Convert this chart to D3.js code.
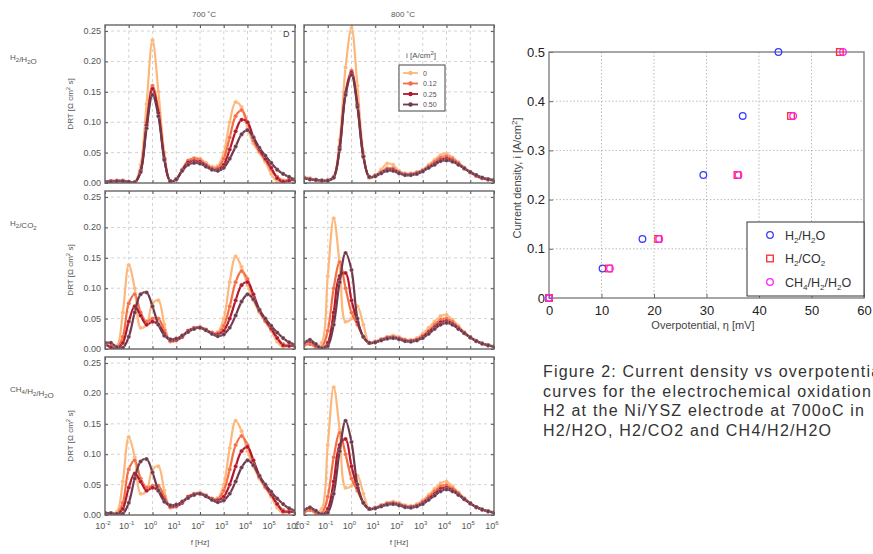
<!DOCTYPE html>
<html>
<head>
<meta charset="utf-8">
<script src="https://cdn.jsdelivr.net/npm/d3@7"></script>
<style>
  body { margin: 0; background: #fff; }
  text { font-family: "Liberation Sans", Arial, sans-serif; }
</style>
</head>
<body>
<div id="vis"></div>
<script>
const FRAME_WIDTH = 873;
const FRAME_HEIGHT = 554;

// frequency grid, log10(f / Hz)
const LOG_F = [-2, -1.75, -1.5, -1.25, -1, -0.75, -0.5, -0.25, 0, 0.25, 0.5, 0.75, 1, 1.25, 1.5, 1.75, 2,
               2.25, 2.5, 2.75, 3, 3.25, 3.5, 3.75, 4, 4.25, 4.5, 4.75, 5, 5.25, 5.5, 5.75, 6];

const CURRENTS = ['0', '0.12', '0.25', '0.50'];
const COLORS = ['#fdb77a', '#f46d43', '#b2182b', '#6f3a4c'];
const TEMPS = ['700 ˚C', '800 ˚C'];
const X_TICKS = [-2, -1, 0, 1, 2, 3, 4, 5, 6];
const Y_TICKS = [0, 0.05, 0.10, 0.15, 0.20, 0.25];

// DRT values, one row per current density (0, 0.12, 0.25, 0.50 A/cm2)
const DRT_700_H2H2O = [
  [0.002,0.003,0.004,0.004,0.002,0.001,0.03,0.13,0.235,0.15,0.05,0.003,0.005,0.022,0.035,0.041,0.040,0.033,0.027,0.028,0.05,0.10,0.133,0.125,0.09,0.065,0.05,0.035,0.015,0.002,0.003,0.005,0.004],
  [0.002,0.003,0.004,0.004,0.002,0.001,0.02,0.10,0.160,0.12,0.04,0.003,0.006,0.022,0.037,0.040,0.038,0.030,0.025,0.025,0.04,0.075,0.11,0.12,0.10,0.07,0.052,0.038,0.022,0.010,0.004,0.005,0.005],
  [0.002,0.003,0.003,0.003,0.002,0.001,0.02,0.095,0.155,0.115,0.04,0.003,0.006,0.021,0.034,0.036,0.035,0.029,0.023,0.022,0.03,0.055,0.085,0.104,0.10,0.075,0.055,0.04,0.025,0.008,0.002,0.004,0.005],
  [0.002,0.002,0.003,0.003,0.002,0.001,0.018,0.09,0.145,0.11,0.038,0.003,0.006,0.02,0.03,0.033,0.032,0.027,0.022,0.020,0.025,0.04,0.06,0.08,0.087,0.075,0.058,0.045,0.033,0.022,0.015,0.010,0.006]
];
const DRT_800_H2H2O = [
  [0.010,0.008,0.005,0.004,0.004,0.010,0.07,0.19,0.255,0.16,0.05,0.008,0.012,0.022,0.032,0.030,0.020,0.016,0.016,0.018,0.022,0.030,0.038,0.046,0.048,0.042,0.034,0.025,0.017,0.012,0.008,0.005,0.004],
  [0.008,0.006,0.005,0.004,0.004,0.010,0.06,0.15,0.185,0.13,0.045,0.010,0.012,0.018,0.024,0.024,0.018,0.015,0.015,0.017,0.021,0.028,0.035,0.042,0.044,0.040,0.033,0.025,0.018,0.012,0.008,0.006,0.004],
  [0.008,0.006,0.005,0.004,0.004,0.009,0.058,0.148,0.182,0.128,0.044,0.010,0.012,0.017,0.022,0.022,0.017,0.014,0.014,0.016,0.020,0.026,0.032,0.038,0.040,0.037,0.031,0.024,0.018,0.012,0.008,0.006,0.004],
  [0.008,0.006,0.005,0.004,0.004,0.009,0.055,0.145,0.178,0.125,0.043,0.010,0.011,0.016,0.020,0.020,0.016,0.013,0.013,0.015,0.019,0.025,0.030,0.036,0.037,0.035,0.030,0.024,0.018,0.013,0.009,0.006,0.005]
];
const DRT_700_H2CO2 = [
  [0.010,0.004,0.005,0.06,0.138,0.10,0.035,0.04,0.075,0.08,0.04,0.012,0.015,0.022,0.030,0.035,0.036,0.032,0.027,0.028,0.05,0.11,0.152,0.135,0.105,0.08,0.06,0.045,0.03,0.012,0.003,0.006,0.005],
  [0.008,0.003,0.002,0.02,0.075,0.09,0.06,0.045,0.05,0.05,0.03,0.013,0.014,0.020,0.030,0.035,0.036,0.032,0.027,0.026,0.038,0.07,0.11,0.128,0.115,0.085,0.062,0.046,0.032,0.018,0.008,0.006,0.005],
  [0.008,0.003,0.001,0.01,0.045,0.07,0.055,0.04,0.045,0.04,0.025,0.014,0.015,0.020,0.030,0.034,0.035,0.031,0.026,0.024,0.03,0.05,0.08,0.105,0.11,0.09,0.065,0.048,0.034,0.018,0.006,0.005,0.005],
  [0.010,0.010,0.003,0.002,0.02,0.06,0.09,0.093,0.07,0.04,0.022,0.016,0.017,0.022,0.028,0.033,0.035,0.031,0.025,0.021,0.024,0.035,0.055,0.078,0.09,0.082,0.064,0.05,0.038,0.027,0.018,0.011,0.007]
];
const DRT_800_H2CO2 = [
  [0.006,0.010,0.004,0.010,0.12,0.215,0.14,0.045,0.05,0.07,0.04,0.010,0.012,0.016,0.020,0.022,0.020,0.016,0.015,0.018,0.025,0.035,0.045,0.054,0.056,0.048,0.038,0.028,0.020,0.014,0.009,0.006,0.004],
  [0.006,0.008,0.003,0.003,0.03,0.10,0.143,0.10,0.06,0.04,0.02,0.010,0.012,0.016,0.019,0.020,0.018,0.015,0.014,0.016,0.022,0.030,0.040,0.048,0.050,0.045,0.036,0.027,0.019,0.013,0.009,0.006,0.004],
  [0.010,0.013,0.006,0.001,0.01,0.06,0.12,0.125,0.08,0.045,0.02,0.010,0.011,0.015,0.018,0.019,0.017,0.014,0.013,0.015,0.020,0.028,0.036,0.044,0.046,0.042,0.034,0.026,0.019,0.013,0.009,0.006,0.004],
  [0.010,0.015,0.008,0.001,0.005,0.04,0.11,0.158,0.13,0.05,0.02,0.010,0.011,0.014,0.017,0.018,0.016,0.013,0.012,0.014,0.018,0.025,0.033,0.040,0.043,0.040,0.033,0.026,0.019,0.013,0.009,0.006,0.004]
];
const DRT_700_CH4 = [
  [0.003,0.003,0.005,0.055,0.128,0.095,0.035,0.04,0.075,0.08,0.04,0.012,0.015,0.022,0.030,0.035,0.037,0.033,0.027,0.028,0.05,0.11,0.155,0.138,0.105,0.08,0.06,0.045,0.03,0.012,0.003,0.006,0.005],
  [0.003,0.002,0.002,0.02,0.075,0.09,0.06,0.045,0.048,0.048,0.03,0.013,0.014,0.020,0.030,0.035,0.036,0.032,0.027,0.026,0.04,0.075,0.115,0.13,0.115,0.085,0.062,0.046,0.032,0.018,0.008,0.006,0.005],
  [0.003,0.002,0.001,0.01,0.045,0.068,0.055,0.04,0.045,0.04,0.025,0.014,0.015,0.020,0.030,0.034,0.035,0.031,0.026,0.024,0.03,0.05,0.08,0.105,0.112,0.09,0.065,0.048,0.034,0.018,0.006,0.005,0.005],
  [0.003,0.003,0.002,0.002,0.02,0.06,0.088,0.092,0.07,0.04,0.022,0.016,0.017,0.022,0.028,0.033,0.035,0.031,0.025,0.021,0.024,0.035,0.055,0.078,0.09,0.082,0.064,0.05,0.038,0.027,0.018,0.011,0.007]
];
const DRT_800_CH4 = [
  [0.004,0.008,0.004,0.010,0.115,0.21,0.14,0.045,0.048,0.065,0.035,0.010,0.012,0.016,0.020,0.022,0.020,0.016,0.015,0.018,0.024,0.033,0.043,0.052,0.055,0.047,0.037,0.028,0.020,0.013,0.009,0.006,0.004],
  [0.004,0.008,0.003,0.003,0.03,0.095,0.135,0.10,0.06,0.04,0.02,0.010,0.012,0.016,0.019,0.020,0.018,0.015,0.014,0.016,0.022,0.030,0.039,0.047,0.049,0.044,0.036,0.027,0.019,0.013,0.009,0.006,0.004],
  [0.008,0.012,0.006,0.001,0.01,0.055,0.115,0.125,0.08,0.045,0.02,0.010,0.011,0.015,0.018,0.019,0.017,0.014,0.013,0.015,0.020,0.027,0.035,0.043,0.045,0.041,0.034,0.026,0.019,0.013,0.009,0.006,0.004],
  [0.008,0.012,0.007,0.001,0.004,0.035,0.105,0.155,0.12,0.05,0.02,0.010,0.011,0.014,0.017,0.018,0.016,0.013,0.012,0.014,0.018,0.025,0.032,0.039,0.042,0.039,0.033,0.026,0.019,0.013,0.009,0.006,0.004]
];

const ROWS = [
  {label: [['H','2'],['/H','2'],['O','']], data: [DRT_700_H2H2O, DRT_800_H2H2O]},
  {label: [['H','2'],['/CO','2']], data: [DRT_700_H2CO2, DRT_800_H2CO2]},
  {label: [['CH','4'],['/H','2'],['/H','2'],['O','']], data: [DRT_700_CH4, DRT_800_CH4]}
];

// polarisation data, right plot
const I_DENSITY = [0, 0.06, 0.12, 0.25, 0.37, 0.50];
const ETA_H2H2O = [0, 10.2, 17.8, 29.4, 36.9, 43.7];
const ETA_H2CO2 = [0, 11.4, 20.8, 35.9, 46.1, 55.4];
const ETA_CH4 = [0, 11.6, 21.0, 36.1, 46.5, 56.0];

const svg = d3.select('#vis').append('svg')
  .attr('width', FRAME_WIDTH)
  .attr('height', FRAME_HEIGHT);
svg.append('rect').attr('width', FRAME_WIDTH).attr('height', FRAME_HEIGHT).attr('fill', '#fff');

// ---------- DRT panels ----------
const COL_X = [105, 304];
const ROW_Y = [25, 191, 357];
const PW = 190, PH = 158;

const X_SCALE = d3.scaleLinear().domain([-2, 6]).range([0, PW]);
const Y_SCALE = d3.scaleLinear().domain([0, 0.26]).range([PH, 0]);

const line = d3.line()
  .x((d, i) => X_SCALE(LOG_F[i]))
  .y(d => Y_SCALE(d))
  .curve(d3.curveCatmullRom.alpha(0.5));

ROWS.forEach((row, r) => {
  row.data.forEach((panelData, c) => {
    const g = svg.append('g').attr('transform', `translate(${COL_X[c]},${ROW_Y[r]})`);
    const clipId = `clip${r}${c}`;
    g.append('clipPath').attr('id', clipId)
      .append('rect').attr('width', PW).attr('height', PH);

    // dashed grid
    g.selectAll('.gx').data(X_TICKS.slice(1, -1)).enter().append('line')
      .attr('x1', d => X_SCALE(d)).attr('x2', d => X_SCALE(d))
      .attr('y1', 0).attr('y2', PH)
      .attr('stroke', '#c8c8c8').attr('stroke-width', 0.8).attr('stroke-dasharray', '3,3');
    g.selectAll('.gy').data(Y_TICKS.slice(1)).enter().append('line')
      .attr('x1', 0).attr('x2', PW)
      .attr('y1', d => Y_SCALE(d)).attr('y2', d => Y_SCALE(d))
      .attr('stroke', '#c8c8c8').attr('stroke-width', 0.8).attr('stroke-dasharray', '3,3');

    // inward ticks on all sides
    const axB = d3.axisBottom(X_SCALE).tickValues(X_TICKS).tickSizeInner(-3).tickSizeOuter(0).tickFormat('');
    const axT = d3.axisTop(X_SCALE).tickValues(X_TICKS).tickSizeInner(-3).tickSizeOuter(0).tickFormat('');
    const axL = d3.axisLeft(Y_SCALE).tickValues(Y_TICKS).tickSizeInner(-3).tickSizeOuter(0).tickFormat('');
    const axR = d3.axisRight(Y_SCALE).tickValues(Y_TICKS).tickSizeInner(-3).tickSizeOuter(0).tickFormat('');
    [[axB, `0,${PH}`], [axT, '0,0'], [axL, '0,0'], [axR, `${PW},0`]].forEach(([ax, tr]) => {
      const a = g.append('g').attr('transform', `translate(${tr})`).call(ax);
      a.select('.domain').remove();
      a.selectAll('line').attr('stroke', '#555');
    });

    // curves
    const plot = g.append('g').attr('clip-path', `url(#${clipId})`);
    panelData.forEach((series, s) => {
      plot.append('path').datum(series)
        .attr('d', line)
        .attr('fill', 'none')
        .attr('stroke', COLORS[s])
        .attr('stroke-width', 2.2);
      plot.selectAll(null).data(series).enter().append('circle')
        .attr('cx', (d, i) => X_SCALE(LOG_F[i]))
        .attr('cy', d => Y_SCALE(d))
        .attr('r', 2.1)
        .attr('fill', COLORS[s])
        .attr('stroke', '#fff')
        .attr('stroke-width', 0.4)
        .attr('stroke-opacity', 0.6);
    });

    g.append('rect').attr('width', PW).attr('height', PH)
      .attr('fill', 'none').attr('stroke', '#666').attr('stroke-width', 1.4);

    // y tick labels, left column only
    if (c === 0) {
      g.selectAll('.yl').data(Y_TICKS).enter().append('text')
        .attr('x', -4).attr('y', d => Y_SCALE(d) + 3)
        .attr('text-anchor', 'end').attr('font-size', 9).attr('fill', '#555')
        .text(d => d3.format('.2f')(d));
      g.append('text')
        .attr('transform', `translate(-32,${PH / 2}) rotate(-90)`)
        .attr('text-anchor', 'middle').attr('font-size', 8).attr('fill', '#555')
        .html('DRT [Ω cm<tspan dy="-3" font-size="6">2</tspan><tspan dy="3"> s]</tspan>');
    }
    // x tick labels, bottom row only
    if (r === 2) {
      const xl = g.selectAll('.xl').data(X_TICKS).enter().append('text')
        .attr('x', d => X_SCALE(d) - 2).attr('y', PH + 14)
        .attr('text-anchor', 'middle').attr('font-size', 9).attr('fill', '#555');
      xl.append('tspan').text('10');
      xl.append('tspan').attr('dy', -4).attr('font-size', 6).text(d => d);
      g.append('text').attr('x', PW / 2).attr('y', PH + 30)
        .attr('text-anchor', 'middle').attr('font-size', 8).attr('fill', '#555').text('f [Hz]');
    }
    if (r === 0) {
      g.append('text').attr('x', PW / 2 + 4).attr('y', -8)
        .attr('text-anchor', 'middle').attr('font-size', 8).attr('fill', '#555').text(TEMPS[c]);
    }
    if (r === 0 && c === 0) {
      g.append('text').attr('x', PW - 12).attr('y', 12)
        .attr('font-size', 9).attr('fill', '#444').text('D');
    }
  });

  // row label
  const t = svg.append('text').attr('x', 10).attr('y', ROW_Y[r] + 35)
    .attr('font-size', 8).attr('fill', '#555');
  row.label.forEach(([main, sub]) => {
    t.append('tspan').text(main).attr('dy', 0);
    if (sub) {
      t.append('tspan').text(sub).attr('font-size', 6).attr('dy', 2);
      t.append('tspan').text('').attr('dy', -2);
    }
  });
});

// legend, 800 C / H2-H2O panel
const lg = svg.append('g').attr('transform', 'translate(399,65)');
svg.append('text').attr('x', 421).attr('y', 58).attr('text-anchor', 'middle')
  .attr('font-size', 8).attr('fill', '#555')
  .html('i [A/cm<tspan dy="-3" font-size="6">2</tspan><tspan dy="3">]</tspan>');
lg.append('rect').attr('width', 46).attr('height', 46)
  .attr('fill', '#fff').attr('stroke', '#444').attr('stroke-width', 1);
CURRENTS.forEach((cur, s) => {
  const y = 8 + s * 10.5;
  lg.append('line').attr('x1', 4).attr('x2', 19).attr('y1', y).attr('y2', y)
    .attr('stroke', COLORS[s]).attr('stroke-width', 1.8);
  lg.append('circle').attr('cx', 11.5).attr('cy', y).attr('r', 2.2).attr('fill', COLORS[s]);
  lg.append('text').attr('x', 24).attr('y', y + 2.5).attr('font-size', 7).attr('fill', '#555').text(cur);
});

// ---------- polarisation plot ----------
const SX = d3.scaleLinear().domain([0, 60]).range([549, 864]);
const SY = d3.scaleLinear().domain([0, 0.5]).range([298, 52]);
const sg = svg.append('g');

sg.selectAll('.sgx').data(d3.range(10, 60, 10)).enter().append('line')
  .attr('x1', d => SX(d)).attr('x2', d => SX(d)).attr('y1', SY(0.5)).attr('y2', SY(0))
  .attr('stroke', '#bbb').attr('stroke-dasharray', '1.5,2');
sg.selectAll('.sgy').data([0.1, 0.2, 0.3, 0.4]).enter().append('line')
  .attr('x1', SX(0)).attr('x2', SX(60)).attr('y1', d => SY(d)).attr('y2', d => SY(d))
  .attr('stroke', '#bbb').attr('stroke-dasharray', '1.5,2');

const sxAxis = sg.append('g').attr('transform', `translate(0,${SY(0)})`)
  .call(d3.axisBottom(SX).tickValues(d3.range(0, 61, 10)).tickSizeInner(-4).tickSizeOuter(0).tickPadding(8));
const syAxis = sg.append('g').attr('transform', `translate(${SX(0)},0)`)
  .call(d3.axisLeft(SY).tickValues([0, 0.1, 0.2, 0.3, 0.4, 0.5]).tickSizeInner(-4).tickSizeOuter(0).tickPadding(4)
    .tickFormat(d => d === 0 ? '0' : d3.format('.1f')(d)));
[sxAxis, syAxis].forEach(a => {
  a.select('.domain').remove();
  a.selectAll('line').attr('stroke', '#666');
  a.selectAll('text').attr('font-size', 13).attr('fill', '#222')
    .attr('font-family', '"Liberation Sans", Arial, sans-serif');
});
sg.append('rect').attr('x', SX(0)).attr('y', SY(0.5))
  .attr('width', SX(60) - SX(0)).attr('height', SY(0) - SY(0.5))
  .attr('fill', 'none').attr('stroke', '#777').attr('stroke-width', 1.3);

sg.append('text').attr('x', 703).attr('y', 329).attr('text-anchor', 'middle')
  .attr('font-size', 11).attr('fill', '#444').text('Overpotential, η [mV]');
sg.append('text').attr('transform', 'translate(521,178) rotate(-90)').attr('text-anchor', 'middle')
  .attr('font-size', 11).attr('fill', '#444')
  .html('Current density, i [A/cm<tspan dy="-4" font-size="8">2</tspan><tspan dy="4">]</tspan>');

function circleMarks(eta, color) {
  sg.selectAll(null).data(eta).enter().append('circle')
    .attr('cx', d => SX(d)).attr('cy', (d, i) => SY(I_DENSITY[i]))
    .attr('r', 3.3).attr('fill', 'none').attr('stroke', color).attr('stroke-width', 1.3);
}
circleMarks(ETA_H2H2O, '#3b3bff');
sg.selectAll(null).data(ETA_H2CO2).enter().append('rect')
  .attr('x', d => SX(d) - 3.3).attr('y', (d, i) => SY(I_DENSITY[i]) - 3.3)
  .attr('width', 6.6).attr('height', 6.6)
  .attr('fill', 'none').attr('stroke', '#ff2a2a').attr('stroke-width', 1.3);
circleMarks(ETA_CH4, '#ff22ff');

// scatter legend
const sl = sg.append('g').attr('transform', 'translate(747,222)');
sl.append('rect').attr('width', 117).attr('height', 74)
  .attr('fill', '#fff').attr('stroke', '#333').attr('stroke-width', 1);
const LEG = [
  {html: 'H<tspan dy="3" font-size="8">2</tspan><tspan dy="-3">/H</tspan><tspan dy="3" font-size="8">2</tspan><tspan dy="-3">O</tspan>', color: '#3b3bff', shape: 'c'},
  {html: 'H<tspan dy="3" font-size="8">2</tspan><tspan dy="-3">/CO</tspan><tspan dy="3" font-size="8">2</tspan>', color: '#ff2a2a', shape: 's'},
  {html: 'CH<tspan dy="3" font-size="8">4</tspan><tspan dy="-3">/H</tspan><tspan dy="3" font-size="8">2</tspan><tspan dy="-3">/H</tspan><tspan dy="3" font-size="8">2</tspan><tspan dy="-3">O</tspan>', color: '#ff22ff', shape: 'c'}
];
LEG.forEach((e, k) => {
  const y = 13 + k * 23.5;
  if (e.shape === 'c') {
    sl.append('circle').attr('cx', 23).attr('cy', y).attr('r', 3.3)
      .attr('fill', 'none').attr('stroke', e.color).attr('stroke-width', 1.3);
  } else {
    sl.append('rect').attr('x', 19.7).attr('y', y - 3.3).attr('width', 6.6).attr('height', 6.6)
      .attr('fill', 'none').attr('stroke', e.color).attr('stroke-width', 1.3);
  }
  sl.append('text').attr('x', 38).attr('y', y + 4.5).attr('font-size', 12.5).attr('fill', '#333').html(e.html);
});

// caption
const CAPTION = [
  'Figure 2: Current density vs overpotential',
  'curves for the electrochemical oxidation of',
  'H2 at the Ni/YSZ electrode at 700oC in',
  'H2/H2O, H2/CO2 and CH4/H2/H2O'
];
svg.selectAll('.cap').data(CAPTION).enter().append('text')
  .attr('x', 543).attr('y', (d, i) => 377 + i * 19.6)
  .attr('font-size', 16).attr('letter-spacing', 1.2).attr('fill', '#333').text(d => d);
</script>
</body>
</html>
